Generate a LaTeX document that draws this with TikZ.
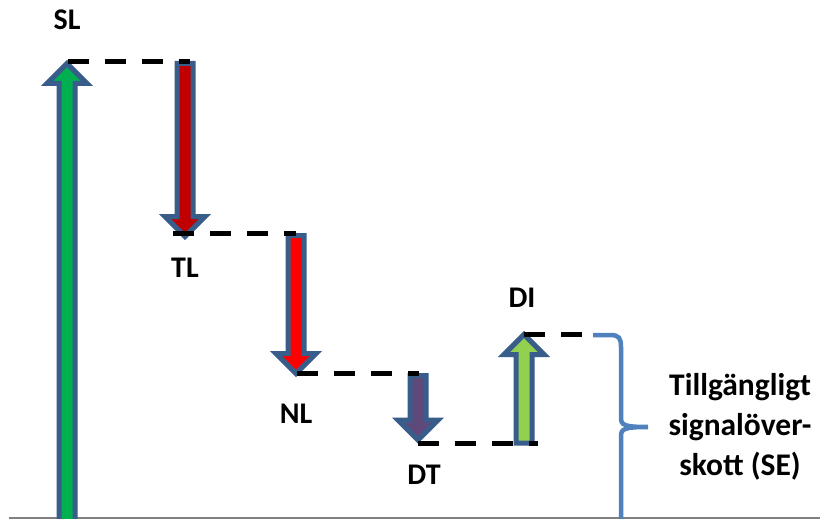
\documentclass[tikz,border=0pt]{standalone}
\usepackage{fontspec}
\setmainfont{Carlito}
\definecolor{outl}{RGB}{56,93,138}
\definecolor{slgreen}{RGB}{0,176,80}
\definecolor{tlred}{RGB}{192,0,0}
\definecolor{nlred}{RGB}{255,0,0}
\definecolor{dtpurp}{RGB}{95,73,122}
\definecolor{digreen}{RGB}{146,208,80}
\definecolor{bracecol}{RGB}{79,129,189}
\newcommand\myup[4]{% x, bottom, tip, colour
  \draw[arrbox, fill=#4] (#1-8,#2) -- (#1-8,#3+20) -- (#1-20,#3+20) -- (#1,#3) -- (#1+20,#3+20) -- (#1+8,#3+20) -- (#1+8,#2) -- cycle;}
\newcommand\mydown[4]{% x, top, tip, colour
  \draw[arrbox, fill=#4] (#1-8,#2) -- (#1-8,#3-20) -- (#1-20,#3-20) -- (#1,#3) -- (#1+20,#3-20) -- (#1+8,#3-20) -- (#1+8,#2) -- cycle;}
\begin{document}
\begin{tikzpicture}[x=1pt,y=-1pt,
  arrbox/.style={draw=outl, line width=5pt, line join=miter},
  dashline/.style={draw=black, line width=5pt, dash pattern=on 21pt off 16pt},
  lbl/.style={font=\fontsize{30}{34}\selectfont\bfseries, inner sep=0pt},
  setext/.style={font=\fontsize{31.5}{38}\selectfont\bfseries, inner sep=0pt, anchor=base}]
\clip (0,0) rectangle (820,519);
\fill[white] (0,0) rectangle (820,519);
% baseline
\coordinate (bl) at (9,518);
\coordinate (br) at (820,518);
\draw[draw={rgb,255:red,128;green,128;blue,128}, line width=2pt] (bl) -- (br);
% arrows
\myup{67}{540}{63.5}{slgreen}
\mydown{185}{63.5}{236.5}{tlred}
\mydown{296}{235.5}{373.5}{nlred}
\mydown{418}{375.5}{440}{dtpurp}
\myup{524}{443}{334.5}{digreen}
% dashed level lines
\coordinate (sl1) at (67.5,62);  \coordinate (sl2) at (190,62);
\coordinate (tl1) at (173,233);  \coordinate (tl2) at (296,233);
\coordinate (nl1) at (297,373);  \coordinate (nl2) at (419,373);
\coordinate (dt1) at (418,443);  \coordinate (dt2) at (538,443);
\coordinate (di1) at (524,334);  \coordinate (di2) at (583,334);
\draw[dashline] (sl1) -- (sl2);
\draw[dashline] (tl1) -- (tl2);
\draw[dashline] (nl1) -- (nl2);
\draw[dashline] (dt1) -- (dt2);
\draw[dashline] (di1) -- (di2);
% brace
\coordinate (btop) at (593,335);
\coordinate (btip) at (648,427);
\coordinate (bbot) at (621,522);
\draw[draw=bracecol, line width=4.5pt] (btop) -- (610,335) .. controls (619,335) and (621,338) .. (621,347)
  -- (621,418) .. controls (621,425) and (624,427) .. (btip)
  .. controls (624,427) and (621,429) .. (621,436) -- (bbot);
% labels
\node[lbl] (SL) at (67,20) {SL};
\node[lbl] (TL) at (185,268) {TL};
\node[lbl] (NL) at (296,414) {NL};
\node[lbl] (DT) at (424,475) {DT};
\node[lbl] (DI) at (522,298) {DI};
\node[setext] (se1) at (740,395) {Tillgängligt};
\node[setext] (se2) at (740,435) {signalöver-};
\node[setext] (se3) at (740,475) {skott (SE)};
\end{tikzpicture}
\end{document}
